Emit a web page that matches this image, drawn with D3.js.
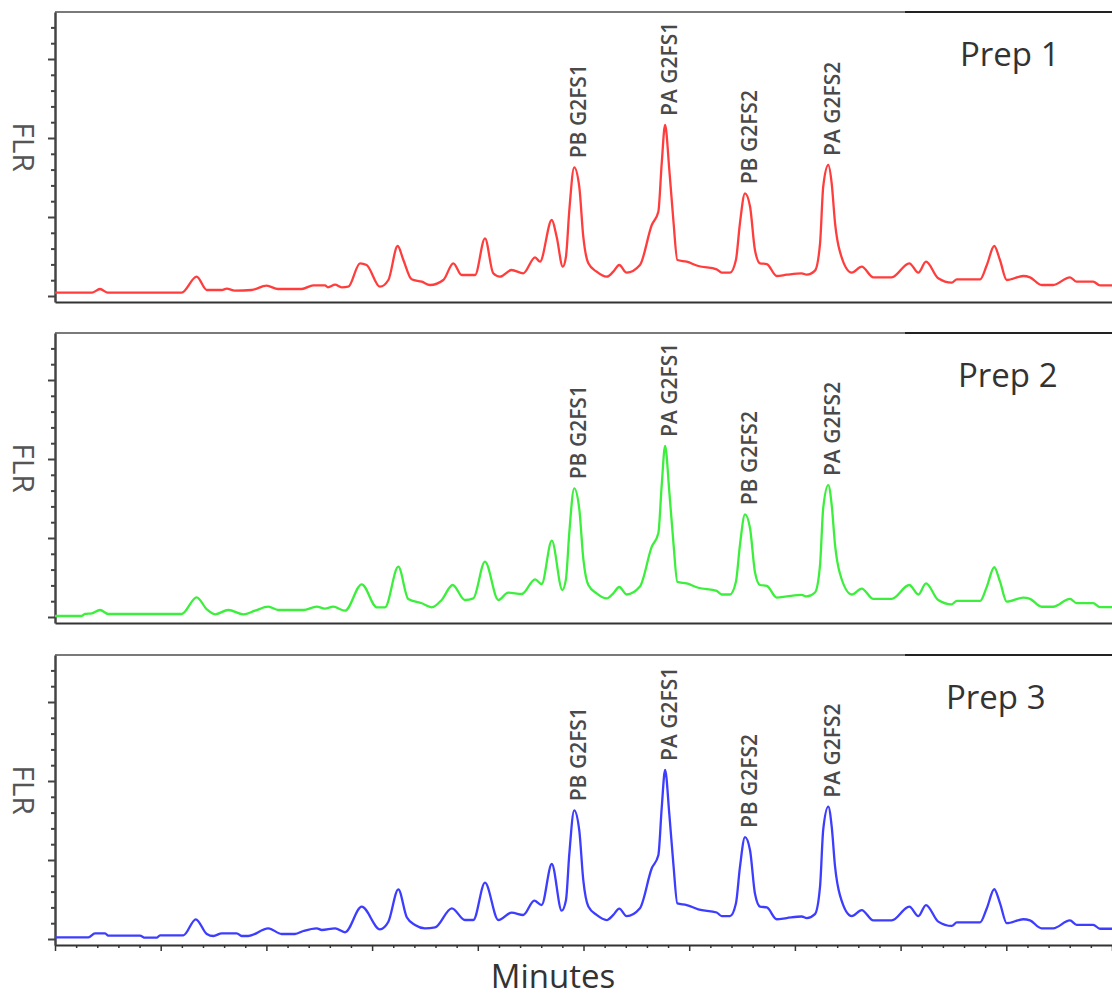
<!DOCTYPE html>
<html>
<head>
<meta charset="utf-8">
<script src="https://cdn.jsdelivr.net/npm/d3@7"></script>
<style>
  body { margin: 0; background: #fff; }
  svg { display: block; font-family: "Open Sans", "DejaVu Sans", sans-serif; }
</style>
</head>
<body>
<svg id="chart" width="1112" height="997"></svg>
<script>
// retention time (min) / FLR signal (EU)
const prep1 = [
  [0, 0.84], [1.74, 0.84], [2.13, 1.77], [2.5, 0.84], [5.99, 0.84], [6.70, 4.89], [7.18, 1.52],
  [7.89, 1.52], [8.12, 1.85], [8.51, 1.34], [9.30, 1.52], [10.01, 2.61], [10.55, 1.77], [11.67, 1.77],
  [12.22, 2.71], [12.77, 2.71], [12.91, 2.20], [13.25, 2.86], [13.56, 2.20], [13.87, 2.35], [14.43, 8.28],
  [14.74, 7.85], [15.37, 2.35], [15.77, 4.05], [16.21, 12.66], [16.48, 9.11], [16.87, 4.23], [17.35, 3.62],
  [17.74, 2.78], [18.37, 4.05], [18.84, 8.28], [19.24, 5.32], [19.87, 5.32], [20.34, 14.61], [20.73, 5.75],
  [21.05, 4.89], [21.60, 6.58], [22.15, 5.75], [22.71, 9.80], [22.94, 8.68], [23.50, 19.24], [23.73, 15.01],
  [24.02, 7.42], [24.17, 9.95], [24.33, 21.77], [24.56, 32.58], [24.80, 27.67], [24.99, 15.01], [25.23, 8.28],
  [25.62, 6.15], [26.10, 4.89], [26.41, 6.15], [26.69, 7.85], [27.04, 5.90], [27.67, 7.85], [28.23, 17.97],
  [28.54, 21.34], [28.70, 33.59], [28.86, 43.29], [29.06, 31.90], [29.25, 19.24], [29.44, 9.11], [29.88, 8.68],
  [30.43, 7.59], [31.30, 6.76], [31.54, 5.90], [31.93, 5.90], [32.21, 9.11], [32.40, 18.41], [32.64, 26.00],
  [32.88, 22.61], [33.11, 11.65], [33.35, 8.28], [33.67, 8.10], [34.14, 5.06], [34.61, 5.39], [35.32, 5.75],
  [35.56, 5.39], [35.95, 6.41], [36.19, 13.34], [36.34, 27.67], [36.58, 33.16], [36.74, 28.53], [36.90, 18.41],
  [37.13, 11.22], [37.69, 5.90], [38.16, 7.42], [38.71, 4.73], [39.58, 4.73], [40.41, 8.28], [40.84, 5.90],
  [41.20, 8.68], [41.78, 4.48], [42.42, 3.37], [42.66, 4.23], [43.76, 4.23], [44.08, 7.85], [44.43, 12.66],
  [44.70, 9.11], [45.02, 4.05], [45.80, 5.06], [46.12, 4.73], [46.67, 2.78], [47.22, 2.78], [48.01, 4.73],
  [48.33, 3.62], [49.11, 3.62], [49.43, 2.71], [50, 2.71]
];
const prep2 = [
  [0, 0.25], [1.26, 0.25], [1.42, 0.76], [1.74, 0.94], [2.13, 1.77], [2.52, 0.76], [5.99, 0.76], [6.70, 4.99],
  [7.18, 1.95], [7.57, 0.68], [8.20, 1.77], [8.91, 0.68], [9.46, 1.59], [10.09, 2.61], [10.56, 1.77],
  [11.75, 1.77], [12.38, 2.61], [12.77, 2.10], [13.16, 2.61], [13.72, 1.59], [14.51, 8.28], [15.22, 2.46],
  [15.61, 2.46], [16.24, 12.73], [16.71, 4.56], [17.35, 3.47], [17.82, 2.46], [18.29, 4.30], [18.81, 8.10],
  [19.39, 4.30], [19.79, 4.73], [20.34, 14.00], [20.97, 4.30], [21.44, 6.15], [22.08, 5.82], [22.71, 9.54],
  [23.02, 8.35], [23.50, 19.32], [24.00, 6.84], [24.17, 9.60], [24.33, 21.50], [24.56, 32.58], [24.80, 27.40],
  [24.99, 14.80], [25.23, 8.10], [25.62, 6.00], [26.10, 4.70], [26.41, 6.00], [26.69, 7.60], [27.04, 5.70],
  [27.67, 7.70], [28.23, 17.80], [28.54, 21.20], [28.70, 33.40], [28.86, 43.29], [29.06, 31.70], [29.25, 19.00],
  [29.44, 8.90], [29.88, 8.50], [30.43, 7.40], [31.30, 6.60], [31.54, 5.70], [31.93, 5.70], [32.21, 8.90],
  [32.40, 18.20], [32.64, 26.00], [32.88, 22.40], [33.11, 11.40], [33.35, 8.10], [33.67, 7.90], [34.14, 4.90],
  [34.61, 5.20], [35.32, 5.60], [35.56, 5.20], [35.95, 6.20], [36.19, 13.20], [36.34, 27.60], [36.58, 33.40],
  [36.74, 28.40], [36.90, 18.20], [37.13, 11.00], [37.69, 5.70], [38.16, 7.20], [38.71, 4.60], [39.58, 4.60],
  [40.41, 8.10], [40.84, 5.70], [41.20, 8.50], [41.78, 4.30], [42.42, 3.20], [42.66, 4.10], [43.76, 4.10],
  [44.08, 7.70], [44.43, 12.60], [44.70, 9.00], [45.02, 3.90], [45.80, 4.90], [46.12, 4.60], [46.67, 2.60],
  [47.22, 2.60], [48.01, 4.60], [48.33, 3.50], [49.11, 3.50], [49.43, 2.50], [50, 2.50]
];
const prep3 = [
  [0, 0.43], [1.58, 0.43], [1.89, 1.44], [2.37, 1.44], [2.52, 0.84], [4.02, 0.84], [4.26, 0.33], [4.81, 0.33],
  [4.97, 0.94], [6.07, 0.94], [6.66, 4.99], [7.18, 1.27], [7.49, 0.76], [7.89, 1.44], [8.60, 1.44], [8.83, 0.76],
  [9.14, 0.76], [10.09, 2.71], [10.72, 1.27], [11.35, 1.27], [11.75, 2.03], [12.38, 2.71], [12.62, 2.28],
  [13.25, 2.71], [13.72, 1.70], [14.51, 8.18], [15.37, 2.46], [15.77, 4.38], [16.24, 12.58], [16.64, 5.49],
  [17.03, 3.54], [17.50, 2.71], [17.98, 2.96], [18.77, 7.77], [19.39, 4.81], [19.79, 4.81], [20.34, 14.25],
  [20.97, 4.81], [21.60, 6.66], [22.15, 6.08], [22.67, 9.70], [23.02, 8.61], [23.50, 18.99], [23.97, 7.16],
  [24.17, 9.80], [24.33, 21.60], [24.56, 32.58], [24.80, 27.50], [24.99, 14.90], [25.23, 8.20], [25.62, 6.10],
  [26.10, 4.80], [26.41, 6.10], [26.69, 7.70], [27.04, 5.80], [27.67, 7.80], [28.23, 17.90], [28.54, 21.20],
  [28.70, 33.20], [28.86, 42.78], [29.06, 31.60], [29.25, 19.10], [29.44, 9.00], [29.88, 8.60], [30.43, 7.50],
  [31.30, 6.70], [31.54, 5.80], [31.93, 5.80], [32.21, 9.00], [32.40, 18.20], [32.64, 25.80], [32.88, 22.40],
  [33.11, 11.50], [33.35, 8.20], [33.67, 8.00], [34.14, 5.00], [34.61, 5.30], [35.32, 5.70], [35.56, 5.30],
  [35.95, 6.30], [36.19, 13.30], [36.34, 27.70], [36.58, 33.50], [36.74, 28.50], [36.90, 18.30], [37.13, 11.10],
  [37.69, 5.80], [38.16, 7.30], [38.71, 4.70], [39.58, 4.70], [40.41, 8.20], [40.84, 5.80], [41.20, 8.60],
  [41.78, 4.40], [42.42, 3.30], [42.66, 4.20], [43.76, 4.20], [44.08, 7.80], [44.43, 12.60], [44.70, 9.10],
  [45.02, 4.00], [45.80, 5.00], [46.12, 4.70], [46.67, 2.70], [47.22, 2.70], [48.01, 4.70], [48.33, 3.60],
  [49.11, 3.60], [49.43, 2.60], [50, 2.60]
];

const prepNames = ["Prep 1", "Prep 2", "Prep 3"];
const prepColors = ["#ff3d3d", "#3def3d", "#3d3dff"];
const peakNames = ["PB G2FS1", "PA G2FS1", "PB G2FS2", "PA G2FS2"];
const peakTimes = [24.56, 28.86, 32.64, 36.58];

const xMajor = d3.range(0, 51, 5);
const xMinor = d3.range(0, 51, 1).filter(d => d % 5 !== 0);
const yMajor = [0, 20, 40, 60];
const yMinor = d3.range(0, 72, 4).filter(d => d % 20 !== 0);

const width = 1112;
const panelTops = [12, 333, 655];
const panelHeight = 290;
const prepLabelX = [960, 958, 946];

const svg = d3.select("#chart");

const x = d3.scaleLinear().domain([0, 50]).range([55, width]);
const y = d3.scaleLinear().domain([-1.52, 71.9]).range([panelHeight, 0]);

const line = d3.line()
    .curve(d3.curveMonotoneX)
    .x(d => x(d[0]))
    .y(d => y(d[1]));

[prep1, prep2, prep3].forEach((series, i) => {
    const g = svg.append("g")
        .attr("transform", `translate(0,${panelTops[i]})`);

    // top frame: grey then dark
    g.append("line")
        .attr("x1", x(0)).attr("x2", x(40.2))
        .attr("y1", 0).attr("y2", 0)
        .attr("stroke", "#7a7a7a").attr("stroke-width", 2);
    g.append("line")
        .attr("x1", x(40.2)).attr("x2", width)
        .attr("y1", 0).attr("y2", 0)
        .attr("stroke", "#222").attr("stroke-width", 2);

    // bottom axis
    const bottom = g.append("g")
        .attr("transform", `translate(0,${panelHeight})`);
    if (i === 2) {
        bottom.append("g")
            .call(d3.axisBottom(x).tickValues(xMinor).tickSize(3).tickFormat("").tickSizeOuter(0))
            .call(a => a.select(".domain").remove());
        bottom.append("g")
            .call(d3.axisBottom(x).tickValues(xMajor).tickSize(6).tickFormat("").tickSizeOuter(0));
    } else {
        bottom.append("g")
            .call(d3.axisBottom(x).tickValues([]).tickSizeOuter(0));
    }
    bottom.selectAll(".domain").attr("stroke", "#333").attr("stroke-width", 2);
    bottom.selectAll(".tick line").attr("stroke", "#333").attr("stroke-width", 1.5);

    // left axis
    const left = g.append("g").attr("transform", `translate(${x(0)},0)`);
    left.append("g")
        .call(d3.axisLeft(y).tickValues(yMinor).tickSize(4).tickFormat("").tickSizeOuter(0))
        .call(a => a.select(".domain").remove());
    left.append("g")
        .call(d3.axisLeft(y).tickValues(yMajor).tickSize(7).tickFormat("").tickSizeOuter(0));
    left.selectAll(".domain").attr("stroke", "#444").attr("stroke-width", 2.5);
    left.selectAll(".tick line").attr("stroke", "#444").attr("stroke-width", 2);

    // trace
    g.append("path")
        .datum(series)
        .attr("fill", "none")
        .attr("stroke", prepColors[i])
        .attr("stroke-width", 2.3)
        .attr("stroke-linejoin", "round")
        .attr("d", line);

    // peak labels
    peakNames.forEach((name, k) => {
        const pt = series.find(d => d[0] === peakTimes[k]);
        g.append("text")
            .attr("transform", `translate(${x(pt[0]) + 12},${y(pt[1]) - 9}) rotate(-90)`)
            .attr("font-size", 21)
            .attr("font-weight", 600)
            .attr("fill", "#4a4a4a")
            .text(name);
    });

    g.append("text")
        .attr("x", prepLabelX[i])
        .attr("y", 54)
        .attr("font-size", 33)
        .attr("fill", "#333")
        .text(prepNames[i]);

    g.append("text")
        .attr("transform", `translate(13,135) rotate(90)`)
        .attr("text-anchor", "middle")
        .attr("font-size", 30)
        .attr("fill", "#555")
        .text("FLR");
});

svg.append("text")
    .attr("x", 553)
    .attr("y", 988)
    .attr("text-anchor", "middle")
    .attr("font-size", 33)
    .attr("fill", "#333")
    .text("Minutes");
</script>
</body>
</html>
